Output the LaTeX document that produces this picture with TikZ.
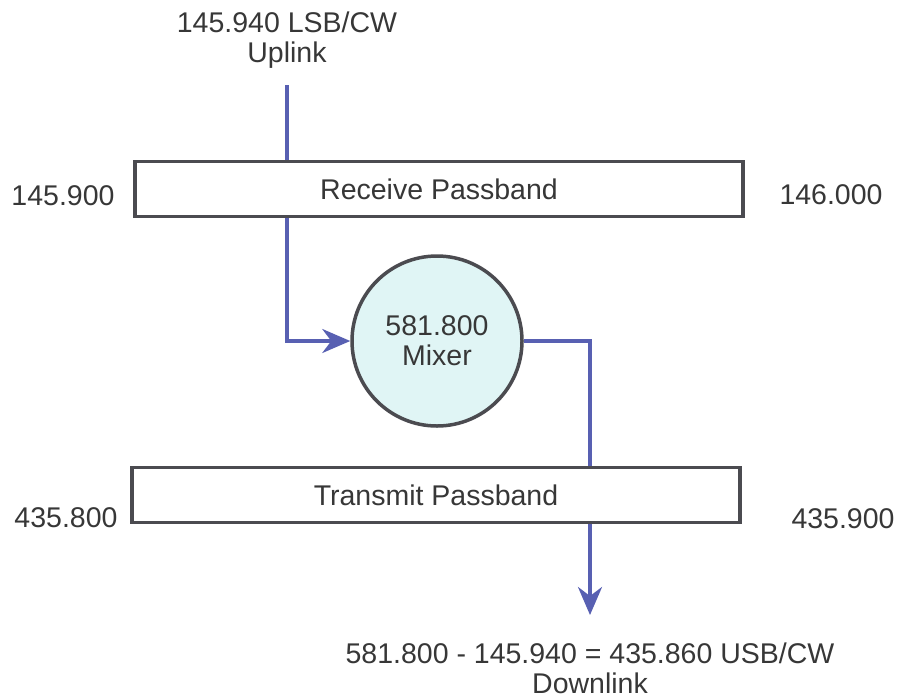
\documentclass[tikz,border=0pt]{standalone}
\usepackage{fontspec}
\setmainfont{Liberation Sans}
\usetikzlibrary{arrows.meta}
\definecolor{line_blue}{RGB}{88,96,178}
\definecolor{box_gray}{RGB}{75,75,80}
\definecolor{text_gray}{RGB}{55,55,55}
\definecolor{mix_cyan}{RGB}{224,245,245}

\begin{document}
\begin{tikzpicture}[x=1pt,y=-1pt,line width=3.5pt,>={Stealth[length=28pt,width=24pt,inset=9pt]}]
    \tikzstyle{lbl}=[text=text_gray,font=\fontsize{28.5}{30}\selectfont,inner sep=0pt]
    \tikzstyle{band}=[style=lbl,draw=box_gray,fill=white,rectangle,minimum width=608pt,minimum height=55pt]
    \tikzstyle{mixer}=[style=lbl,draw=box_gray,fill=mix_cyan,circle,minimum size=170pt,align=center]
    \tikzstyle{sig}=[draw=line_blue]

    \useasboundingbox (0,0) rectangle (901,699);

    \node[lbl,align=center] (upl) at (287,40)  {145.940 LSB/CW\\Uplink};
    \node[band]             (rx)  at (439,189) {Receive Passband};
    \node[lbl]              (rlo) at (63,196)  {145.900};
    \node[lbl]              (rhi) at (831,195) {146.000};
    \node[mixer]            (mix) at (437,341) {581.800\\Mixer};
    \node[band]             (tx)  at (436,495) {Transmit Passband};
    \node[lbl]              (tlo) at (66,518)  {435.800};
    \node[lbl]              (thi) at (843,519) {435.900};
    \node[lbl,align=center] (dnl) at (590,668) {581.800 - 145.940 = 435.860 USB/CW\\Downlink};

    \coordinate (up) at (287,85);
    \coordinate (dn) at (590,615);

    \draw[sig] (up) -- (up |- rx.north);
    \draw[sig,->] (up |- rx.south) |- (mix.west);
    \draw[sig] (mix.east) -| (dn |- tx.north);
    \draw[sig,->] (dn |- tx.south) -- (dn);
\end{tikzpicture}
\end{document}
